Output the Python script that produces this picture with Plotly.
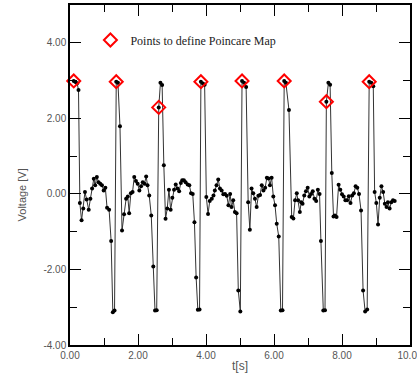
import plotly.graph_objects as go

# time [s] and voltage [V] samples
t = [0.11, 0.16, 0.21, 0.25, 0.29, 0.34, 0.39, 0.44, 0.49, 0.55, 0.60, 0.65, 0.70, 0.74, 0.79, 0.84,
     0.89, 0.94, 0.99, 1.04, 1.09, 1.15, 1.21, 1.26, 1.31,
     1.36, 1.41, 1.47, 1.53, 1.59, 1.65, 1.70, 1.74, 1.79, 1.84, 1.89, 1.94, 1.99, 2.04, 2.09,
     2.14, 2.19, 2.24, 2.28, 2.33, 2.39, 2.45, 2.50, 2.55,
     2.61, 2.66, 2.71, 2.76, 2.81, 2.86, 2.91, 2.96, 3.01, 3.06, 3.11, 3.16, 3.21, 3.26, 3.30,
     3.35, 3.40, 3.46, 3.51, 3.56, 3.61, 3.66, 3.71, 3.76, 3.81,
     3.85, 3.91, 3.96, 4.01, 4.06, 4.11, 4.17, 4.22, 4.26, 4.31, 4.36, 4.41, 4.46, 4.51, 4.56,
     4.61, 4.66, 4.71, 4.75, 4.80, 4.85, 4.90, 4.95, 5.01,
     5.06, 5.12, 5.18, 5.24, 5.29, 5.34, 5.39, 5.44, 5.49, 5.54, 5.59, 5.64, 5.69, 5.74, 5.79,
     5.84, 5.88, 5.93, 5.98, 6.03, 6.08, 6.14, 6.20, 6.25,
     6.30, 6.35, 6.44, 6.52, 6.57, 6.62, 6.67, 6.71, 6.76, 6.80, 6.84, 6.89, 6.94, 6.99, 7.04,
     7.09, 7.14, 7.19, 7.24, 7.29, 7.34, 7.38, 7.45, 7.50,
     7.54, 7.60, 7.65, 7.70, 7.75, 7.79, 7.84, 7.90, 7.95, 8.00, 8.05, 8.10, 8.15, 8.20, 8.25,
     8.30, 8.35, 8.40, 8.45, 8.50, 8.56, 8.62, 8.68, 8.74,
     8.80, 8.86, 8.92, 8.96, 9.01, 9.06, 9.11, 9.16, 9.21, 9.26, 9.31, 9.35, 9.40, 9.45, 9.50, 9.55]
v = [2.99, 2.96, 2.93, 2.75, -0.24, -0.70, -0.39, 0.05, -0.15, -0.42, -0.13, 0.14, 0.40, 0.23, 0.45, 0.31,
     0.27, 0.23, 0.09, 0.16, -0.37, -0.42, -1.25, -3.13, -3.09,
     2.97, 2.94, 1.79, -0.97, -0.54, -0.13, -0.07, -0.51, 0.02, 0.05, 0.45, 0.34, 0.27, 0.09, 0.20,
     0.31, 0.27, 0.46, 0.23, -0.04, -0.57, -1.92, -3.09, -3.08,
     2.29, 2.94, 2.88, 0.76, -0.66, -0.39, 0.11, -0.42, -0.10, 0.11, 0.25, 0.14, 0.07, 0.29, 0.36,
     0.36, 0.31, 0.25, 0.23, 0.02, 0.00, -0.75, -2.21, -3.07, -3.06,
     2.97, 2.92, 2.89, -0.08, -0.53, -0.19, -0.13, -0.04, 0.09, 0.23, 0.38, 0.14, 0.09, -0.01, 0.00,
     -0.05, -0.30, 0.00, -0.35, -0.17, -0.48, -0.51, -2.56, -3.11,
     2.99, 2.94, 2.83, -0.22, -0.95, 0.14, 0.02, -0.13, -0.35, -0.05, -0.03, 0.23, 0.09, 0.16, 0.43,
     0.41, 0.23, 0.43, -0.07, -0.30, -0.79, -1.13, -3.09, -3.08,
     2.99, 2.94, 2.22, -0.61, -0.65, -0.17, 0.02, -0.17, -0.48, -0.22, -0.26, -0.04, 0.07, 0.16, -0.07,
     0.00, 0.07, -0.13, -0.19, 0.11, 0.00, -1.25, -3.09, -3.08,
     2.44, 2.94, 2.89, 0.55, -0.60, -0.57, -0.61, 0.24, 0.11, -0.01, -0.07, -0.17, -0.17, -0.06, -0.24,
     -0.04, 0.02, 0.20, 0.16, 0.00, -0.44, -2.56, -3.11, -3.06,
     2.97, 2.94, 2.85, 0.05, -0.24, -0.81, -0.10, 0.20, 0.05, -0.26, -0.35, -0.22, -0.39, -0.22, -0.17, -0.19]

# Poincare map points
pt = [0.11, 1.36, 2.61, 3.85, 5.06, 6.30, 7.54, 8.80]
pv = [2.99, 2.97, 2.29, 2.97, 2.99, 2.99, 2.44, 2.97]

xticks = [0, 2, 4, 6, 8, 10]
xticklabels = ["0.00", "2.00", "4.00", "6.00", "8.00", "10.00"]
yticks = [-4, -2, 0, 2, 4]
yticklabels = ["-4.00", "-2.00", "0.00", "2.00", "4.00"]

fig = go.Figure()
fig.add_trace(go.Scatter(
    x=t, y=v, mode="lines+markers", showlegend=False, cliponaxis=False,
    line=dict(color="#333333", width=1),
    marker=dict(color="black", size=4, symbol="circle"),
))
fig.add_trace(go.Scatter(
    x=pt, y=pv, mode="markers", name="Points to define Poincare Map", cliponaxis=False,
    marker=dict(symbol="diamond-open", size=10, color="red", line=dict(color="red", width=2)),
))

axis_common = dict(
    showline=True, linecolor="black", linewidth=1.5, mirror="allticks",
    ticks="inside", ticklen=11, tickwidth=1.2, tickcolor="black",
    showgrid=False, zeroline=False, automargin=False, ticklabeloverflow="allow",
    tickfont=dict(family="Liberation Sans, Arial", size=10, color="#555555"),
    minor=dict(ticks="inside", ticklen=7, tickwidth=1.2, tickcolor="black", dtick=1, showgrid=False),
)

fig.update_layout(
    width=417, height=381,
    margin=dict(l=70, r=7, t=5, b=36, autoexpand=False),
    paper_bgcolor="white", plot_bgcolor="white",
    xaxis=dict(range=[0, 10], tickvals=xticks, ticktext=xticklabels,
               title=dict(text="t[s]", font=dict(family="Liberation Sans, Arial", size=12, color="#555555"), standoff=2),
               **axis_common),
    yaxis=dict(range=[-4, 5], tickvals=yticks, ticktext=yticklabels, **axis_common),
    legend=dict(x=0.06, y=0.897, xanchor="left", yanchor="middle", bgcolor="rgba(0,0,0,0)",
                font=dict(family="Liberation Serif, Times New Roman", size=12, color="#222222")),
    annotations=[dict(text="Voltage [V]", xref="paper", yref="paper", x=-0.141, y=0.44,
                      xanchor="center", yanchor="middle", textangle=-90, showarrow=False,
                      font=dict(family="Liberation Sans, Arial", size=11, color="#555555"))],
)

fig.write_html("out.html", config={"displayModeBar": False},
               post_script="document.body.style.margin='0';document.body.style.overflow='hidden';")
